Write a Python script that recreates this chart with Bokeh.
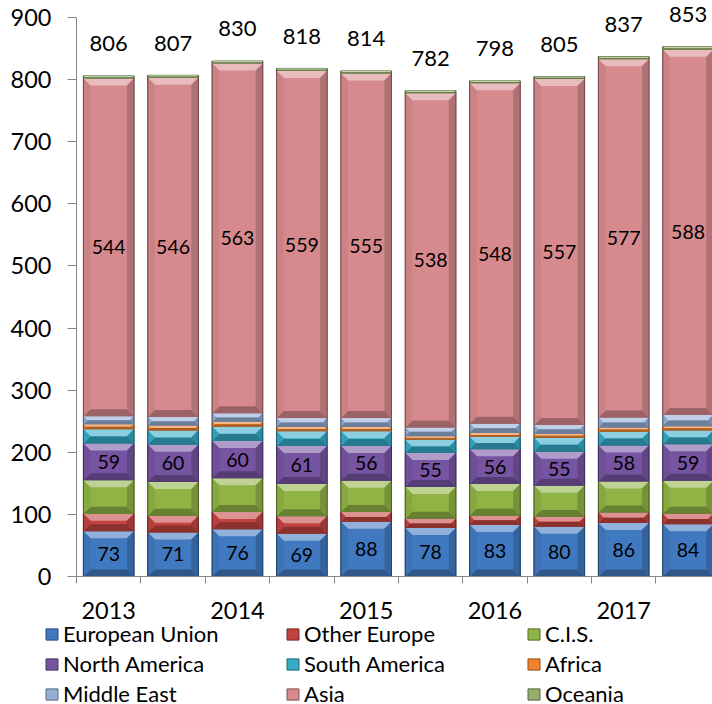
import numpy as np
from bokeh.plotting import figure
from bokeh.layouts import column
from bokeh.models import Range1d, FixedTicker, Legend, LegendItem
from bokeh.embed import file_html
from bokeh.resources import INLINE
from bokeh.core.properties import value

# ---- data -------------------------------------------------------------
periods = ["2013 H1", "2013 H2", "2014 H1", "2014 H2", "2015 H1",
           "2015 H2", "2016 H1", "2016 H2", "2017 H1", "2017 H2"]
year_labels = ["2013", "2014", "2015", "2016", "2017"]
regions = ["European Union", "Other Europe", "C.I.S.", "North America",
           "South America", "Africa", "Middle East", "Asia", "Oceania"]

european_union = [73, 71, 76, 69, 88, 78, 83, 80, 86, 84]
other_europe = [28, 27, 28, 28, 16, 15, 15, 16, 17, 17]
cis = [54, 54, 54, 52, 50, 51, 51, 50, 50, 53]
north_america = [59, 60, 60, 61, 56, 55, 56, 55, 58, 59]
south_america = [23, 23, 23, 24, 24, 21, 20, 22, 22, 22]
africa = [8, 8, 8, 7, 7, 6, 6, 7, 7, 7]
middle_east = [13, 14, 14, 14, 14, 14, 15, 14, 16, 18]
asia = [544, 546, 563, 559, 555, 538, 548, 557, 577, 588]
oceania = [4, 4, 4, 4, 4, 4, 4, 4, 4, 5]
totals = [806, 807, 830, 818, 814, 782, 798, 805, 837, 853]

series = [european_union, other_europe, cis, north_america, south_america,
          africa, middle_east, asia, oceania]
labelled = {"European Union", "North America", "Asia"}

# ---- styling ----------------------------------------------------------
FONT = "Lato"
colors = ["#4179C0", "#C2433F", "#8FB344", "#7654A2", "#35AAC7",
          "#F0822E", "#93ADD5", "#D78A8E", "#93AE6B"]
AXIS_GREY = "#868686"

W = 712
CHART_H, LEGEND_H = 622, 82
LEFT, BOTTOM = 76, 46
CAT_PX = 64.375            # pixel width of one category slot
frame_w = W - LEFT
frame_h = CHART_H - BOTTOM
x_end = frame_w / CAT_PX
y_end = 927.4              # headroom above 900 for the total labels
ppu_x = frame_w / x_end
ppu_y = frame_h / y_end
bar_w = 0.785
BEVEL_PX = 7


def _rgb(h):
    h = h.lstrip("#")
    return [int(h[i:i + 2], 16) for i in (0, 2, 4)]


def _hex(rgb):
    return "#" + "".join(f"{max(0, min(255, int(round(v)))):02x}" for v in rgb)


def lighten(h, f):
    return _hex([v + (255 - v) * f for v in _rgb(h)])


def darken(h, f):
    return _hex([v * (1 - f) for v in _rgb(h)])


p = figure(width=W, height=CHART_H, output_backend="svg", toolbar_location=None,
           x_range=Range1d(0, x_end), y_range=Range1d(0, y_end),
           min_border_left=LEFT, min_border_right=0, min_border_top=0,
           min_border_bottom=BOTTOM)
p.outline_line_color = None
p.xgrid.visible = False
p.ygrid.visible = False
p.background_fill_color = "white"

n = len(periods)
x = np.arange(n) + 0.5
bottom = np.zeros(n)

bx, by, bc = [], [], []
ex0, ey0, ey1, ec = [], [], [], []
lab_x, lab_y, lab_t = [], [], []

for name, vals, c in zip(regions, series, colors):
    vals = np.asarray(vals, dtype=float)
    top = bottom + vals
    p.vbar(x=x, bottom=bottom, top=top, width=bar_w,
           fill_color=c, line_color=darken(c, 0.4), line_width=1)
    c_top, c_bot = lighten(c, 0.42), darken(c, 0.28)
    c_left, c_right = darken(c, 0.06), darken(c, 0.18)
    for xi, b, t in zip(x, bottom, top):
        dy = min(BEVEL_PX / ppu_y, (t - b) / 2.0)
        dx = dy * ppu_y / ppu_x
        x0, x1 = xi - bar_w / 2, xi + bar_w / 2
        bx.append([x0, x1, x1 - dx, x0 + dx]); by.append([t, t, t - dy, t - dy]); bc.append(c_top)
        bx.append([x0, x1, x1 - dx, x0 + dx]); by.append([b, b, b + dy, b + dy]); bc.append(c_bot)
        bx.append([x0, x0 + dx, x0 + dx, x0]); by.append([b, b + dy, t - dy, t]); bc.append(c_left)
        bx.append([x1, x1 - dx, x1 - dx, x1]); by.append([b, b + dy, t - dy, t]); bc.append(c_right)
        for ex in (x0, x1):
            ex0.append(ex); ey0.append(b); ey1.append(t); ec.append(darken(c, 0.45))
    if name in labelled:
        for xi, b, v in zip(x, bottom, vals):
            lab_x.append(xi); lab_y.append(b + v / 2); lab_t.append(str(int(v)))
    bottom = top

# bevel facets and darker side edges
p.patches(bx, by, fill_color=bc, line_color=None)
p.segment(x0=ex0, y0=ey0, x1=ex0, y1=ey1, line_color=ec, line_width=1)

# values inside the segments
p.text(x=lab_x, y=lab_y, text=lab_t, text_font=value(FONT),
       text_font_size="19.5px", text_align="center", text_baseline="middle",
       text_color="black")

# stack totals above the bars
p.text(x=x, y=totals, text=[str(t) for t in totals], text_font=value(FONT),
       text_font_size="22px", text_align="center", text_baseline="middle",
       text_color="black", y_offset=-32)

# ---- axes -------------------------------------------------------------
yax = p.yaxis[0]
yax.ticker = FixedTicker(ticks=list(range(0, 1000, 100)))
yax.bounds = (0, 900)
yax.axis_line_color = AXIS_GREY
yax.major_tick_line_color = AXIS_GREY
yax.major_tick_out = 9
yax.major_tick_in = 0
yax.minor_tick_line_color = None
yax.major_label_text_font = FONT
yax.major_label_text_font_size = "23.5px"
yax.major_label_text_color = "black"
yax.major_label_standoff = 16

xax = p.xaxis[0]
year_pos = [0.5 + 2 * i for i in range(len(year_labels))]
xax.ticker = FixedTicker(ticks=year_pos, minor_ticks=list(range(n + 1)))
xax.major_label_overrides = {pos: lab for pos, lab in zip(year_pos, year_labels)}
xax.axis_line_color = AXIS_GREY
xax.major_tick_line_color = None
xax.major_tick_out = 0
xax.major_tick_in = 0
xax.minor_tick_line_color = AXIS_GREY
xax.minor_tick_out = 7
xax.minor_tick_in = 0
xax.major_label_text_font = FONT
xax.major_label_text_font_size = "23.5px"
xax.major_label_text_color = "black"
xax.major_label_standoff = 18

# ---- legend strip: 3 x 3 grid of region keys ---------------------------
# Its own plot frame spans the full strip so the keys can sit left of the
# chart's y axis; the key glyphs come from series renderers kept out of view.
leg = figure(width=W, height=LEGEND_H, output_backend="svg", toolbar_location=None,
             x_axis_location=None, y_axis_location=None,
             x_range=Range1d(-3, -2), y_range=Range1d(-3, -2),
             min_border_left=0, min_border_right=0, min_border_top=0,
             min_border_bottom=0, frame_align=False)
leg.outline_line_color = None
leg.xgrid.visible = False
leg.ygrid.visible = False

key_renderers = [leg.vbar(x=x, top=vals, width=bar_w, fill_color=c,
                          line_color=darken(c, 0.4), line_width=1)
                 for vals, c in zip(series, colors)]

legend = Legend(
    items=[LegendItem(label=nm, renderers=[r]) for nm, r in zip(regions, key_renderers)],
    location=(44, -3), orientation="horizontal", ncols=3,
    label_text_font=FONT, label_text_font_size="22px", label_text_color="black",
    glyph_width=15, glyph_height=14, label_standoff=4, label_width=219,
    label_height=26, spacing=3, padding=0, margin=0,
    border_line_color=None, background_fill_alpha=0,
)
leg.add_layout(legend)

layout = column(p, leg, spacing=0)
open("out.html", "w").write(file_html(layout, INLINE))
